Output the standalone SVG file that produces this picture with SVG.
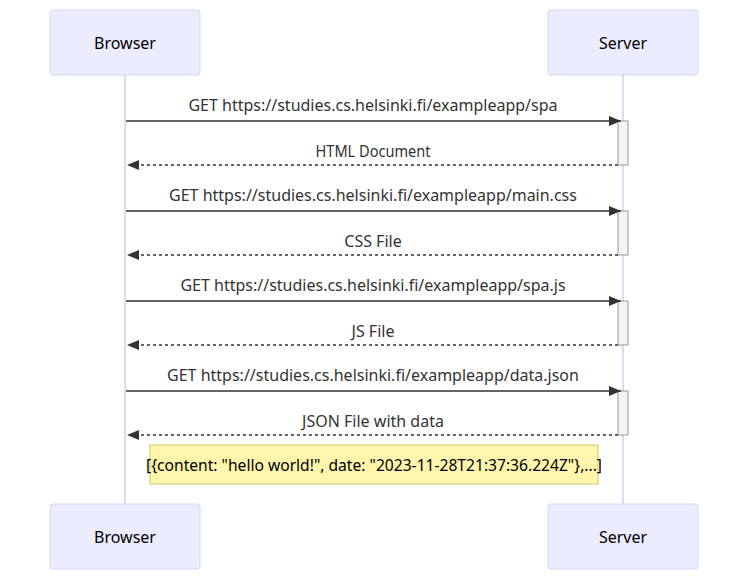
<svg xmlns="http://www.w3.org/2000/svg" width="748" height="580" viewBox="0 0 748 580">
<defs>
<marker id="ah" viewBox="0 0 12 10" refX="12" refY="5" markerWidth="12" markerHeight="10" markerUnits="userSpaceOnUse" orient="auto">
<path d="M0,0 L12,5 L0,10 z" fill="#333"/>
</marker>
</defs>
<style>
.actor{fill:#ECECFF;stroke:#d8d6f5;stroke-width:1}
.life{stroke:#d4ccf0;stroke-width:1.5}
.t{font-family:"Noto Sans","DejaVu Sans",sans-serif;font-size:16px;fill:#333;text-anchor:middle}
.at{font-family:"Noto Sans","DejaVu Sans",sans-serif;font-size:16px;fill:#000;text-anchor:middle;dominant-baseline:central}
.msg{stroke:#333;stroke-width:1.5;fill:none;marker-end:url(#ah)}
.ret{stroke:#333;stroke-width:1.5;fill:none;stroke-dasharray:3,3;marker-end:url(#ah)}
.act{fill:#f4f4f4;stroke:#999;stroke-width:1}
.note{fill:#fff5ad;stroke:#cccc66;stroke-width:1}
</style>
<line class="life" x1="125" y1="75" x2="125" y2="504"/>
<line class="life" x1="623" y1="75" x2="623" y2="504"/>
<g id="browser-top"><rect class="actor" x="50" y="10" width="150" height="65" rx="3"/><text class="at" x="125" y="43">Browser</text></g>
<g id="server-top"><rect class="actor" x="548" y="10" width="150" height="65" rx="3"/><text class="at" x="623" y="43">Server</text></g>
<g id="browser-bottom"><rect class="actor" x="50" y="504" width="150" height="65" rx="3"/><text class="at" x="125" y="537">Browser</text></g>
<g id="server-bottom"><rect class="actor" x="548" y="504" width="150" height="65" rx="3"/><text class="at" x="623" y="537">Server</text></g>
<g id="activations">
<rect class="act" x="618" y="121" width="10" height="44"/>
<rect class="act" x="618" y="211" width="10" height="44"/>
<rect class="act" x="618" y="301" width="10" height="44"/>
<rect class="act" x="618" y="391" width="10" height="44"/>
</g>
<g id="connectors">
<text class="t" x="373" y="111">GET https://studies.cs.helsinki.fi/exampleapp/spa</text>
<line class="msg" x1="126" y1="121" x2="621" y2="121"/>
<text class="t" x="373" y="157" textLength="115" lengthAdjust="spacingAndGlyphs">HTML Document</text>
<line class="ret" x1="618" y1="165" x2="127" y2="165"/>
<text class="t" x="373" y="201">GET https://studies.cs.helsinki.fi/exampleapp/main.css</text>
<line class="msg" x1="126" y1="211" x2="621" y2="211"/>
<text class="t" x="373" y="247">CSS File</text>
<line class="ret" x1="618" y1="255" x2="127" y2="255"/>
<text class="t" x="373" y="291">GET https://studies.cs.helsinki.fi/exampleapp/spa.js</text>
<line class="msg" x1="126" y1="301" x2="621" y2="301"/>
<text class="t" x="373" y="337">JS File</text>
<line class="ret" x1="618" y1="345" x2="127" y2="345"/>
<text class="t" x="373" y="381">GET https://studies.cs.helsinki.fi/exampleapp/data.json</text>
<line class="msg" x1="126" y1="391" x2="621" y2="391"/>
<text class="t" x="373" y="427">JSON File with data</text>
<line class="ret" x1="618" y1="435" x2="127" y2="435"/>
</g>
<g id="note"><rect class="note" x="150" y="445" width="448" height="39"/><text class="at" x="374" y="465" style="fill:#000" textLength="456" lengthAdjust="spacingAndGlyphs">[{content: "hello world!", date: "2023-11-28T21:37:36.224Z"},...]</text></g>
</svg>
